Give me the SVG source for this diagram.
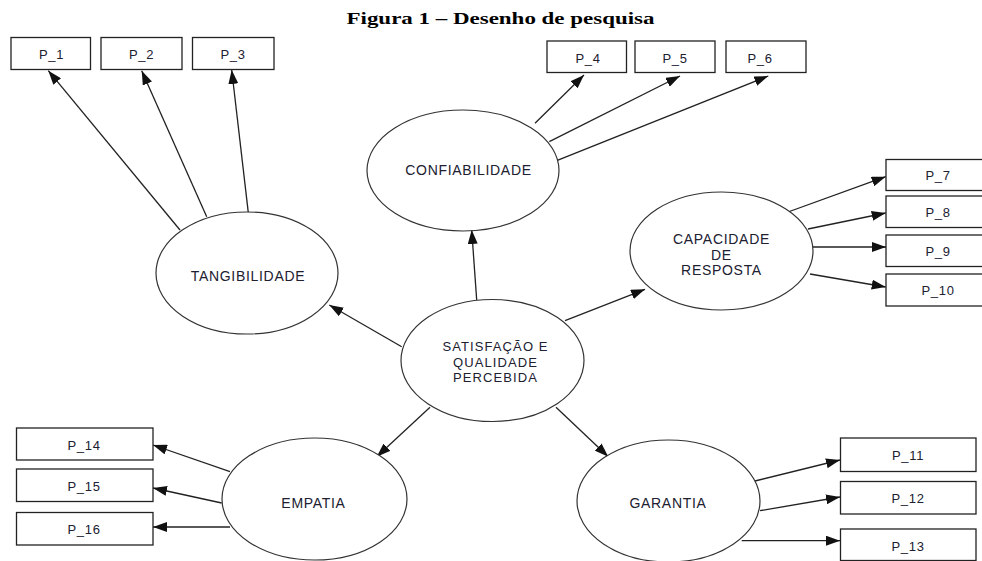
<svg xmlns="http://www.w3.org/2000/svg" width="982" height="561" viewBox="0 0 982 561">
<style>
.bg{fill:#fff}
.box{fill:#fff;stroke:#222;stroke-width:1.3}
.ell{fill:#fff;stroke:#333;stroke-width:1.2}
.pl{font-family:"Liberation Sans",Arial,sans-serif;font-size:13px;letter-spacing:0.7px;fill:#202030;text-anchor:middle}
.el{font-family:"Liberation Sans",Arial,sans-serif;font-size:14px;letter-spacing:0.7px;fill:#202030;text-anchor:middle}
.cl{font-family:"Liberation Sans",Arial,sans-serif;font-size:13px;letter-spacing:1.1px;fill:#202030;text-anchor:middle}
.title{font-family:"Liberation Serif","Times New Roman",serif;font-size:17px;font-weight:bold;fill:#000;text-anchor:start}
.con line{stroke:#222;stroke-width:1.3;marker-end:url(#ah)}
</style>
<defs>
<marker id="ah" markerUnits="userSpaceOnUse" markerWidth="14" markerHeight="10" refX="14" refY="5" orient="auto">
<path d="M0,0 L14,5 L0,10 z" fill="#111"/>
</marker>
</defs>
<rect class="bg" x="0" y="0" width="982" height="561"/>
<text class="title" x="346.5" y="23.5" textLength="308" lengthAdjust="spacingAndGlyphs">Figura 1 – Desenho de pesquisa</text>

<g id="connectors" class="con">
<line x1="401.7" y1="346.7" x2="329.3" y2="305"/>
<line x1="476.7" y1="300" x2="471.7" y2="230"/>
<line x1="565" y1="320.7" x2="645" y2="289.3"/>
<line x1="430" y1="407.3" x2="376.7" y2="456.7"/>
<line x1="556" y1="407.3" x2="608.3" y2="456.7"/>
<line x1="180" y1="230" x2="48.3" y2="70.7"/>
<line x1="206.7" y1="216.7" x2="141.7" y2="70.7"/>
<line x1="248.3" y1="212.7" x2="231.7" y2="70"/>
<line x1="535" y1="123.3" x2="584" y2="75"/>
<line x1="549.3" y1="141.7" x2="680" y2="76"/>
<line x1="556.7" y1="160.7" x2="768.3" y2="76"/>
<line x1="788" y1="212" x2="885.7" y2="176.7"/>
<line x1="808" y1="229" x2="885.7" y2="213"/>
<line x1="813" y1="247" x2="886" y2="247"/>
<line x1="810" y1="274" x2="885.7" y2="287"/>
<line x1="755" y1="481" x2="840" y2="460"/>
<line x1="760" y1="510.7" x2="840" y2="497"/>
<line x1="741.7" y1="540.7" x2="840" y2="540.7"/>
<line x1="230" y1="471.7" x2="153" y2="445"/>
<line x1="221.7" y1="503" x2="153" y2="488"/>
<line x1="230" y1="527" x2="153" y2="527"/>
</g>

<g id="n-satisfacao"><ellipse class="ell" cx="492.5" cy="360.5" rx="91.5" ry="61"/>
<text class="cl" x="495.5" y="351">SATISFAÇÃO E</text>
<text class="cl" x="495.5" y="366.5">QUALIDADE</text>
<text class="cl" x="495.5" y="382">PERCEBIDA</text></g>
<g id="n-tangibilidade"><ellipse class="ell" cx="247" cy="273" rx="91" ry="61"/>
<text class="el" x="248" y="281">TANGIBILIDADE</text></g>
<g id="n-confiabilidade"><ellipse class="ell" cx="463" cy="170.5" rx="96" ry="60.5"/>
<text class="el" x="468.5" y="175">CONFIABILIDADE</text></g>
<g id="n-capacidade"><ellipse class="ell" cx="721.5" cy="251" rx="91.5" ry="59"/>
<text class="el" x="721.5" y="244">CAPACIDADE</text>
<text class="el" x="721.5" y="260">DE</text>
<text class="el" x="721.5" y="274.5">RESPOSTA</text></g>
<g id="n-empatia"><ellipse class="ell" cx="314.5" cy="499" rx="92.5" ry="61"/>
<text class="el" x="313.5" y="508">EMPATIA</text></g>
<g id="n-garantia"><ellipse class="ell" cx="668.5" cy="501" rx="91.5" ry="61"/>
<text class="el" x="668" y="507.5">GARANTIA</text></g>

<g id="p1"><rect class="box" x="11" y="37.5" width="79.5" height="32"/><text class="pl" x="51.5" y="59">P_1</text></g>
<g id="p2"><rect class="box" x="101" y="37.5" width="81" height="32"/><text class="pl" x="141.5" y="59">P_2</text></g>
<g id="p3"><rect class="box" x="192.5" y="37.5" width="81.5" height="32"/><text class="pl" x="233" y="59">P_3</text></g>
<g id="p4"><rect class="box" x="547" y="41" width="79.5" height="31.5"/><text class="pl" x="588" y="63">P_4</text></g>
<g id="p5"><rect class="box" x="635" y="41" width="80" height="31.5"/><text class="pl" x="675" y="63">P_5</text></g>
<g id="p6"><rect class="box" x="726" y="41" width="80" height="31.5"/><text class="pl" x="760" y="63">P_6</text></g>
<g id="p7"><rect class="box" x="886" y="159.5" width="100" height="31"/><text class="pl" x="938" y="180">P_7</text></g>
<g id="p8"><rect class="box" x="886" y="196" width="100" height="31.5"/><text class="pl" x="938" y="217">P_8</text></g>
<g id="p9"><rect class="box" x="886" y="235" width="100" height="31.5"/><text class="pl" x="938" y="256">P_9</text></g>
<g id="p10"><rect class="box" x="886" y="274" width="100" height="32"/><text class="pl" x="938" y="295">P_10</text></g>
<g id="p11"><rect class="box" x="840.5" y="438" width="135.5" height="33.5"/><text class="pl" x="908" y="460">P_11</text></g>
<g id="p12"><rect class="box" x="840.5" y="481.5" width="135.5" height="32.5"/><text class="pl" x="908" y="503">P_12</text></g>
<g id="p13"><rect class="box" x="840.5" y="529" width="135.5" height="31.5"/><text class="pl" x="908" y="551">P_13</text></g>
<g id="p14"><rect class="box" x="16.5" y="428" width="136.5" height="32"/><text class="pl" x="84" y="450">P_14</text></g>
<g id="p15"><rect class="box" x="16.5" y="469" width="136.5" height="32.5"/><text class="pl" x="84" y="491">P_15</text></g>
<g id="p16"><rect class="box" x="16.5" y="512.5" width="136.5" height="32.5"/><text class="pl" x="84" y="534">P_16</text></g>
</svg>
